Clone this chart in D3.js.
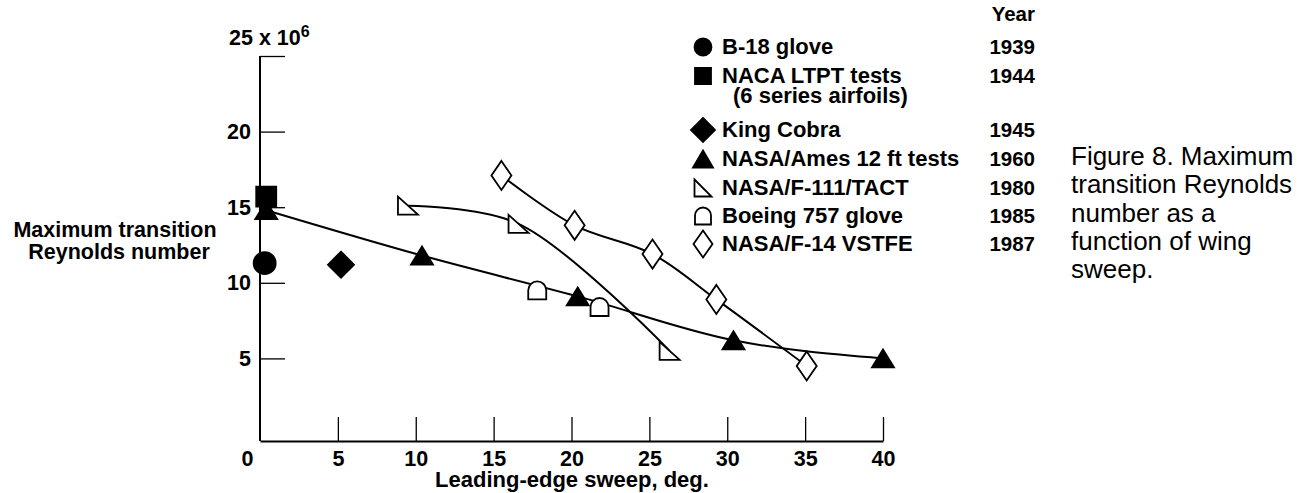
<!DOCTYPE html>
<html>
<head>
<meta charset="utf-8">
<script src="https://cdn.jsdelivr.net/npm/d3@7"></script>
<style>
  body { margin: 0; background: #fff; }
  svg { display: block; font-family: "Liberation Sans", Arial, Helvetica, sans-serif; }
  .bold { font-weight: bold; }
</style>
</head>
<body>
<div id="viz"></div>
<script>
// values: [sweep deg, Re x 10^6]
var b18Glove = [[0.3, 11.3]];
var nacaLtpt = [[0.4, 15.7]];
var kingCobra = [[5.2, 11.2]];
var amesTests = [[0.4, 14.8], [10.4, 11.8], [20.4, 9.1], [30.4, 6.2], [40.0, 5.0]];
var f111Tact = [[9.5, 15.1], [16.6, 13.9], [26.3, 5.5]];
var boeing757 = [[17.8, 9.5], [21.8, 8.4]];
var f14Vstfe = [[15.5, 17.1], [20.2, 13.8], [25.2, 11.9], [29.3, 8.9], [35.1, 4.5]];

var xTicks = [0, 5, 10, 15, 20, 25, 30, 35, 40];
var yTicks = [5, 10, 15, 20, 25];

var legendNames = ["B-18 glove", "NACA LTPT tests", "King Cobra", "NASA/Ames 12 ft tests",
                   "NASA/F-111/TACT", "Boeing 757 glove", "NASA/F-14 VSTFE"];
var legendNotes = ["", "(6 series airfoils)", "", "", "", "", ""];
var legendYears = ["1939", "1944", "1945", "1960", "1980", "1985", "1987"];

var caption = ["Figure 8. Maximum", "transition Reynolds", "number as a", "function of wing", "sweep."];

var width = 1301,
    height = 493;

// marker look for each series (same order as the legend)
var series = [
    {data: b18Glove,  shape: "circle",   fill: "#000", w: 22, h: 22, lw: 17, lh: 17, curve: null},
    {data: nacaLtpt,  shape: "square",   fill: "#000", w: 20, h: 20, lw: 16, lh: 16, curve: null},
    {data: kingCobra, shape: "diamond",  fill: "#000", w: 26, h: 26, lw: 24, lh: 24, curve: null},
    {data: amesTests, shape: "triangle", fill: "#000", w: 22, h: 18, lw: 20, lh: 17, curve: d3.curveMonotoneX},
    {data: f111Tact,  shape: "rtriangle", fill: "#fff", w: 20, h: 18, lw: 17, lh: 17, curve: d3.curveCatmullRom},
    {data: boeing757, shape: "dome",     fill: "#fff", w: 18, h: 18, lw: 16, lh: 17, curve: null},
    {data: f14Vstfe,  shape: "diamond",  fill: "#fff", w: 20, h: 29, lw: 19, lh: 27, curve: d3.curveCatmullRom}
];

var x = d3.scaleLinear().domain([0, 40]).range([260, 883]);
var y = d3.scaleLinear().domain([0, 25]).range([434, 56]);
var plotBottom = 441;

var svg = d3.select("#viz").append("svg")
    .attr("width", width)
    .attr("height", height);

function shape(type, w, h) {
    var a = w / 2, b = h / 2;
    if (type == "circle") {
        return "M" + (-a) + ",0A" + a + "," + a + " 0 1,1 " + a + ",0A" + a + "," + a + " 0 1,1 " + (-a) + ",0Z";
    } else if (type == "square") {
        return "M" + (-a) + "," + (-b) + "H" + a + "V" + b + "H" + (-a) + "Z";
    } else if (type == "diamond") {
        return "M0," + (-b) + "L" + a + ",0L0," + b + "L" + (-a) + ",0Z";
    } else if (type == "triangle") {
        return "M0," + (-b) + "L" + a + "," + b + "H" + (-a) + "Z";
    } else if (type == "rtriangle") {
        return "M" + (-a) + "," + (-b) + "L" + a + "," + b + "H" + (-a) + "Z";
    } else if (type == "dome") {
        return "M" + (-a) + "," + b + "V" + (b - h + a) + "A" + a + "," + a + " 0 0,1 " + a + "," + (b - h + a) + "V" + b + "Z";
    }
}

// y axis, ticks pointing into the plot
var yAxis = svg.append("g")
    .attr("transform", "translate(" + x(0) + ",0)")
    .call(d3.axisLeft(y)
        .tickValues(yTicks)
        .tickSizeInner(-25)
        .tickSizeOuter(0)
        .tickPadding(9)
        .tickFormat(function(d) { return d == 25 ? "" : d; }));
yAxis.select(".domain").attr("d", "M0," + y(25) + "V" + plotBottom);

// x axis
var xAxis = svg.append("g")
    .attr("transform", "translate(0," + plotBottom + ")")
    .call(d3.axisBottom(x)
        .tickValues(xTicks)
        .tickSizeInner(-24)
        .tickSizeOuter(0)
        .tickPadding(10));
xAxis.selectAll(".tick").filter(function(d) { return d == 0; })
    .select("line").remove();
xAxis.selectAll(".tick").filter(function(d) { return d == 0; })
    .select("text").attr("x", -13);

svg.selectAll(".domain, .tick line")
    .attr("stroke", "#000")
    .attr("stroke-width", 2);
svg.selectAll(".tick line").attr("stroke-width", 1.3);
svg.selectAll(".tick text")
    .attr("class", "bold")
    .attr("fill", "#000")
    .style("font-size", "21.5px")
    .style("font-family", "'Liberation Sans', Arial, sans-serif");

// "25 x 10^6" at top of y axis
var topLabel = svg.append("text")
    .attr("class", "bold")
    .attr("x", 229)
    .attr("y", 45)
    .style("font-size", "21.5px");
topLabel.append("tspan").text("25 x 10");
topLabel.append("tspan").attr("dy", -8).style("font-size", "16px").text("6");

// axis titles
var yTitle = svg.append("text")
    .attr("class", "bold")
    .attr("text-anchor", "middle")
    .style("font-size", "21.5px");
yTitle.append("tspan").attr("x", 115).attr("y", 237).text("Maximum transition");
yTitle.append("tspan").attr("x", 119).attr("y", 259).text("Reynolds number");

svg.append("text")
    .attr("class", "bold")
    .attr("text-anchor", "middle")
    .attr("x", 572)
    .attr("y", 487)
    .style("font-size", "22px")
    .text("Leading-edge sweep, deg.");

// curves
var line = d3.line()
    .x(function(d) { return x(d[0]); })
    .y(function(d) { return y(d[1]); });

series.forEach(function(s) {
    if (!s.curve) return;
    svg.append("path")
        .datum(s.data)
        .attr("fill", "none")
        .attr("stroke", "#000")
        .attr("stroke-width", 2)
        .attr("d", line.curve(s.curve));
});

// markers
series.forEach(function(s) {
    svg.append("g").selectAll("path")
        .data(s.data)
        .enter().append("path")
        .attr("transform", function(d) { return "translate(" + x(d[0]) + "," + y(d[1]) + ")"; })
        .attr("d", shape(s.shape, s.w, s.h))
        .attr("fill", s.fill)
        .attr("stroke", "#000")
        .attr("stroke-width", 1.8)
        .attr("stroke-linejoin", "miter");
});

// legend
var rowY = [54, 83, 137, 166, 195, 223, 251];
var legend = svg.append("g");

legend.append("text")
    .attr("class", "bold")
    .attr("text-anchor", "end")
    .attr("x", 1035)
    .attr("y", 21)
    .style("font-size", "20.5px")
    .text("Year");

legendNames.forEach(function(name, i) {
    var s = series[i];
    legend.append("path")
        .attr("transform", "translate(703," + (rowY[i] - 7) + ")")
        .attr("d", shape(s.shape, s.lw, s.lh))
        .attr("fill", s.fill)
        .attr("stroke", "#000")
        .attr("stroke-width", 1.8);
    var label = legend.append("text")
        .attr("class", "bold")
        .style("font-size", "22px");
    label.append("tspan").attr("x", 722).attr("y", rowY[i]).text(name);
    if (legendNotes[i]) {
        label.append("tspan").attr("x", 733).attr("y", rowY[i] + 20).text(legendNotes[i]);
    }
    legend.append("text")
        .attr("class", "bold")
        .attr("text-anchor", "end")
        .attr("x", 1035)
        .attr("y", rowY[i])
        .style("font-size", "20.5px")
        .text(legendYears[i]);
});

// figure caption
svg.append("g").selectAll("text")
    .data(caption)
    .enter().append("text")
    .attr("x", 1071)
    .attr("y", function(d, i) { return 165 + i * 28.3; })
    .style("font-size", "26px")
    .text(function(d) { return d; });
</script>
</body>
</html>
